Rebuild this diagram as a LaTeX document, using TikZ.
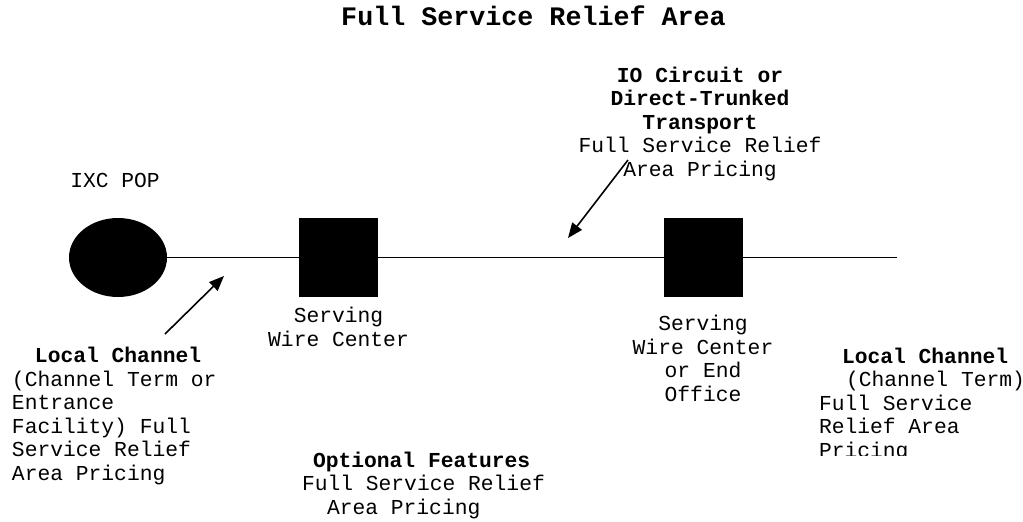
\documentclass[tikz,border=0pt]{standalone}
\usepackage{fontspec}
\setmainfont{Liberation Mono}
\usetikzlibrary{arrows.meta,shapes.geometric}
\tikzset{
  txt/.style={inner sep=0pt, outer sep=0pt, font=\fontsize{21.3}{23.5}\selectfont},
  blk/.style={fill=black, draw=none},
  wire/.style={line width=1.6pt},
  pointer/.style={line width=1.6pt, -{Triangle[length=15pt,width=12pt]}},
}
\begin{document}
\begin{tikzpicture}[x=1pt,y=-1pt]
\useasboundingbox (0,0) rectangle (1023,522);
% title
\node[txt, anchor=base, font=\fontsize{26.7}{28}\selectfont\bfseries] (title) at (533.5,25) {Full Service Relief Area};
% shapes
\node[blk, ellipse, minimum width=98pt, minimum height=79pt, inner sep=0pt] (pop) at (118,257.5) {};
\node[blk, rectangle, minimum width=79pt, minimum height=79pt, inner sep=0pt] (swc) at (338.5,257.5) {};
\node[blk, rectangle, minimum width=79pt, minimum height=79pt, inner sep=0pt] (eo) at (703.5,257.5) {};
\coordinate (lineend) at (897,257.5);
\draw[wire] (pop.east) -- (swc.west);
\draw[wire] (swc.east) -- (eo.west);
\draw[wire] (eo.east) -- (lineend);
% labels (base anchor = baseline of the last line)
\node[txt, anchor=base] (poplbl) at (115,187) {IXC POP};
\node[txt, anchor=base, align=center] (swclbl) at (338.5,346) {Serving\\Wire Center};
\node[txt, anchor=base, align=center] (eolbl) at (703,401) {Serving\\Wire Center\\or End\\Office};
\node[txt, anchor=base, align=center] (iolbl) at (700,176) {\textbf{IO Circuit or}\\\textbf{Direct-Trunked}\\\textbf{Transport}\\Full Service Relief\\Area Pricing};
\node[txt, anchor=base west, align=left] (leftlbl) at (12,480) {\hspace*{23pt}\textbf{Local Channel}\\(Channel Term or\\Entrance\\Facility) Full\\Service Relief\\Area Pricing};
\node[txt, anchor=base west, align=left] (optlbl) at (302,514) {\hspace*{11pt}\textbf{Optional Features}\\Full Service Relief\\\hspace*{25pt}Area Pricing};
\begin{scope}
\clip (780,330) rectangle (1023,455);
\node[txt, anchor=base west, align=left] (rightlbl) at (819,457) {\hspace*{23pt}\textbf{Local Channel}\\\hspace*{27pt}(Channel Term)\\Full Service\\Relief Area\\Pricing};
\end{scope}
% pointers
\coordinate (lctail) at (165,334);
\coordinate (lctip) at (224,276);
\draw[pointer] (lctail) -- (lctip);
\coordinate (iotail) at (628,160);
\coordinate (iotip) at (568,238);
\draw[pointer] (iotail) -- (iotip);
\end{tikzpicture}
\end{document}
